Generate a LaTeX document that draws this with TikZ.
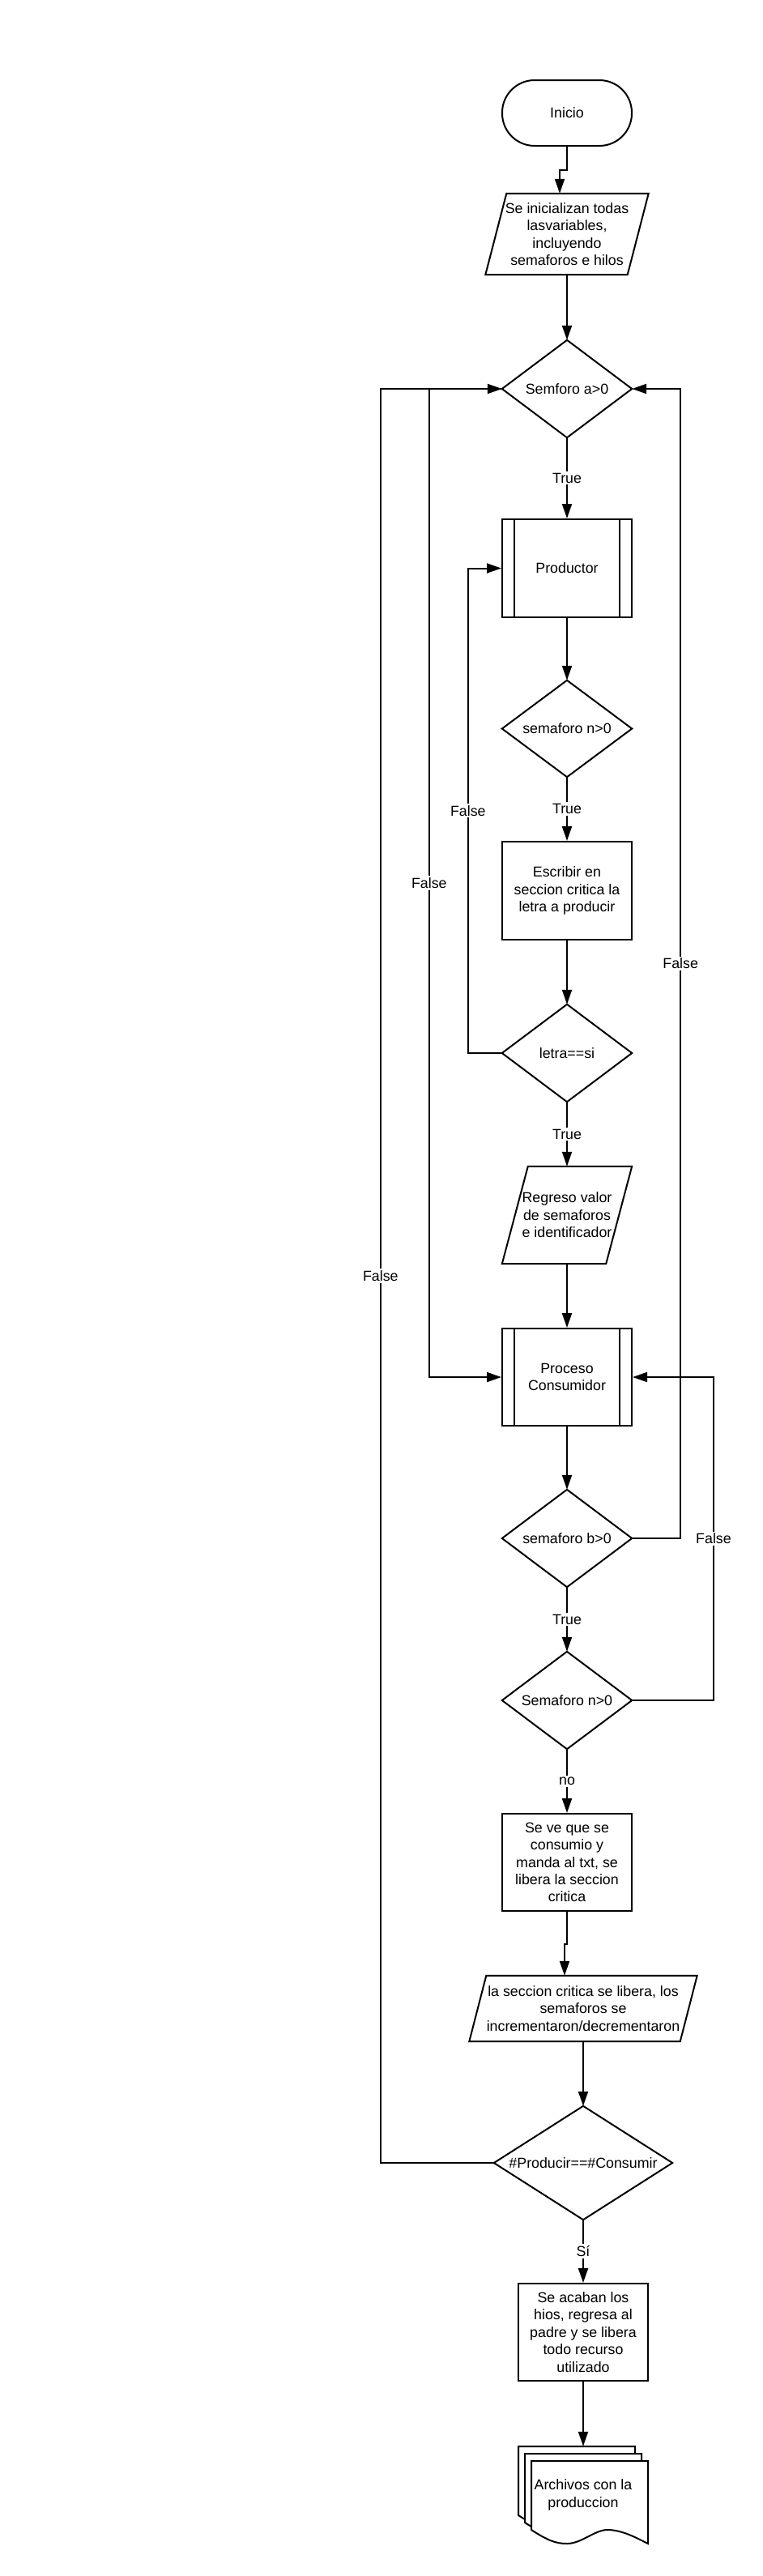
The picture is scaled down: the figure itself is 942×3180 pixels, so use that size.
\documentclass[tikz,border=0pt]{standalone}
\usepackage{fontspec}
\setmainfont{Liberation Sans}
\usetikzlibrary{arrows.meta,calc}
\newcommand\docsheet[2]{\draw[ln, fill=white, shift={(#1,#2)}] (0,0) -- (144,0) -- (144,102) .. controls (130,95) and (112,85) .. (94,85) .. controls (78,85) and (62,102) .. (44,102) .. controls (30,102) and (20,98) .. (0,85) -- cycle;}
\begin{document}
\begin{tikzpicture}[x=1pt,y=-1pt,
  every node/.style={font=\fontsize{17.8pt}{21.4pt}\selectfont, align=center, inner sep=0pt},
  ln/.style={line width=2pt, line join=miter},
  arr/.style={ln, -{Triangle[length=18pt,width=12pt]}},
  slot/.style={minimum width=160pt, minimum height=120pt},
  term/.style={draw, ln, rounded corners=40pt, minimum width=160pt, minimum height=81pt},
  boxnode/.style={draw, ln, slot},
  lbl/.style={fill=white, inner sep=2pt}]
\useasboundingbox (0,0) rectangle (942,3180);

% document stack
\docsheet{640}{3020}
\docsheet{648}{3029}
\docsheet{656}{3038}

% nodes
\node[term] (ini) at (700,139.5) {Inicio};
\node[minimum width=201pt, minimum height=100pt] (p1) at (700,289) {Se inicializan todas\\lasvariables,\\incluyendo\\semaforos e hilos};
\node[slot] (d1) at (700,480) {Semforo a>0};
\node[boxnode, minimum height=121pt] (prod) at (700,701.5) {Productor};
\node[slot, minimum height=119pt] (d2) at (700,899.5) {semaforo n>0};
\node[boxnode, minimum height=121pt] (esc) at (700,1099.5) {Escribir en\\seccion critica la\\letra a producir};
\node[slot] (d3) at (700,1300) {letra==si};
\node[slot] (p2) at (700,1500) {Regreso valor\\de semaforos\\e identificador};
\node[boxnode] (cons) at (700,1700) {Proceso\\Consumidor};
\node[slot] (d4) at (700,1899) {semaforo b>0};
\node[slot] (d5) at (700,2099) {Semaforo n>0};
\node[boxnode] (sev) at (700,2299) {Se ve que se\\consumio y\\manda al txt, se\\libera la seccion\\critica};
\node[minimum width=281pt, minimum height=81pt] (p3) at (720,2479.5) {la seccion critica se libera, los\\semaforos se\\incrementaron/decrementaron};
\node[minimum width=220pt, minimum height=140pt] (d6) at (720,2670) {\#Producir==\#Consumir};
\node[boxnode] (fin) at (720,2879) {Se acaban los\\hios, regresa al\\padre y se libera\\todo recurso\\utilizado};
\node[slot] (doc) at (720,3080) {Archivos con la\\produccion};

% shape outlines
\foreach \n in {prod,cons} {
  \draw[ln] ([xshift=16pt]\n.north west) -- ([xshift=16pt]\n.south west);
  \draw[ln] ([xshift=-16pt]\n.north east) -- ([xshift=-16pt]\n.south east);
}
\foreach \n in {d1,d2,d3,d4,d5,d6}
  \draw[ln] (\n.north) -- (\n.east) -- (\n.south) -- (\n.west) -- cycle;
\draw[ln] ([xshift=26pt]p1.north west) -- (p1.north east) -- ([xshift=-26pt]p1.south east) -- (p1.south west) -- cycle;
\draw[ln] ([xshift=32pt]p2.north west) -- (p2.north east) -- ([xshift=-32pt]p2.south east) -- (p2.south west) -- cycle;
\draw[ln] ([xshift=21pt]p3.north west) -- (p3.north east) -- ([xshift=-21pt]p3.south east) -- (p3.south west) -- cycle;

% main flow
\draw[arr] (ini.south) -- ++(0,29) -| ([xshift=-9pt]p1.north);
\draw[arr] (p1.south) -- (d1.north);
\draw[arr] (d1.south) -- node[lbl]{True} (prod.north);
\draw[arr] (prod.south) -- (d2.north);
\draw[arr] (d2.south) -- node[lbl]{True} (esc.north);
\draw[arr] (esc.south) -- (d3.north);
\draw[arr] (d3.south) -- node[lbl]{True} (p2.north);
\draw[arr] (p2.south) -- (cons.north);
\draw[arr] (cons.south) -- (d4.north);
\draw[arr] (d4.south) -- node[lbl]{True} (d5.north);
\draw[arr] (d5.south) -- node[lbl]{no} (sev.north);
\draw[arr] (sev.south) -- ++(0,40) -| ([xshift=-23pt]p3.north);
\draw[arr] (p3.south) -- (d6.north);
\draw[arr] (d6.south) -- node[lbl]{Sí} (fin.north);
\draw[arr] (fin.south) -- (doc.north);

% feedback loops
\draw[arr] (d3.west) -- ++(-42,0) |- (prod.west) node[lbl,pos=0.25]{False};
\draw[arr] (d1.west) -- ++(-90,0) |- (cons.west) node[lbl,pos=0.25]{False};
\draw[arr] (d6.west) -| ([xshift=-150pt]d1.west) node[lbl,pos=0.75]{False} -- (d1.west);
\draw[arr] (d4.east) -| ([xshift=60pt]d1.east) node[lbl,pos=0.75]{False} -- (d1.east);
\draw[arr] (d5.east) -| ([xshift=100pt]cons.east) node[lbl,pos=0.75]{False} -- (cons.east);
\end{tikzpicture}
\end{document}
